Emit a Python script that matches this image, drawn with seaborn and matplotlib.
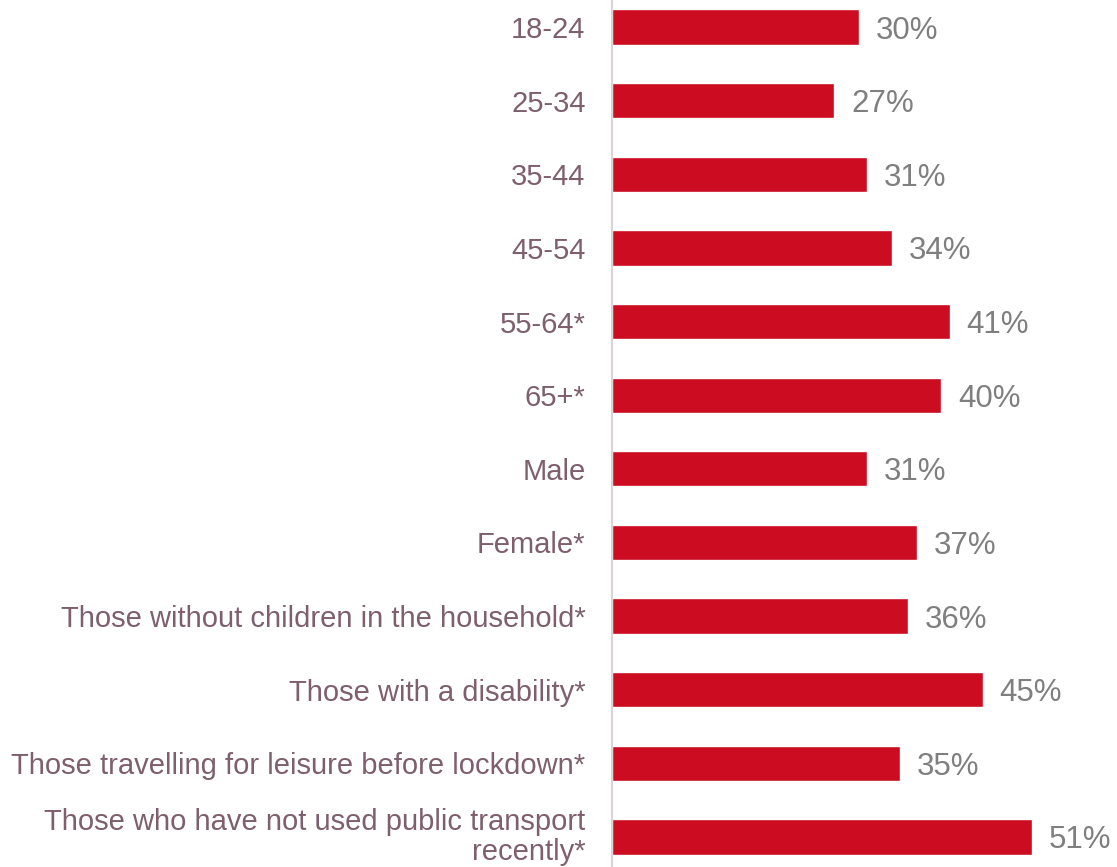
import matplotlib
matplotlib.use("Agg")
import matplotlib.pyplot as plt
import seaborn as sns
import pandas as pd

categories = [
    "18-24", "25-34", "35-44", "45-54", "55-64*", "65+*", "Male", "Female*",
    "Those without children in the household*",
    "Those with a disability*",
    "Those travelling for leisure before lockdown*",
    "Those who have not used public transport\nrecently*",
]
values = [30, 27, 31, 34, 41, 40, 31, 37, 36, 45, 35, 51]

df = pd.DataFrame({"group": categories, "share": values})

sns.set_theme(style="white")
plt.rcParams["font.family"] = ["Liberation Sans", "DejaVu Sans"]

fig = plt.figure(figsize=(11.17, 8.67), dpi=100)
W, H = 1117, 867
slot = 73.6
top_px = 27 - slot / 2
bot_px = 837 + slot / 2
ax = fig.add_axes([612 / W, 1 - bot_px / H, (W - 612) / W, (bot_px - top_px) / H])

sns.barplot(data=df, y="group", x="share", orient="h", color="#CC0C20",
            saturation=1, width=0.48, ax=ax)

ax.set_xlim(0, (W - 612) / 8.235)
ax.set_ylim(len(categories) - 0.5, -0.5)
ax.set_xlabel("")
ax.set_ylabel("")
ax.set_xticks([])

for c in ax.containers:
    texts = ax.bar_label(c, labels=[f"{v}%" for v in values], padding=12,
                         fontsize=22.5, color="#7F7F7F")
    for t in texts:
        t.set_verticalalignment("center_baseline")

ax.tick_params(axis="y", length=0, pad=19, labelsize=21, labelcolor="#7E5F6E")
for lbl in ax.get_yticklabels():
    lbl.set_horizontalalignment("right")
    lbl.set_multialignment("right")
    if "\n" in lbl.get_text():
        lbl.set_verticalalignment("center")
        lbl.set_linespacing(1.08)
    else:
        lbl.set_verticalalignment("center_baseline")

for side in ["top", "right", "bottom"]:
    ax.spines[side].set_visible(False)
ax.spines["left"].set_color("#DCD3D7")
ax.spines["left"].set_linewidth(1.5)

fig.savefig("out.png", dpi=100)
